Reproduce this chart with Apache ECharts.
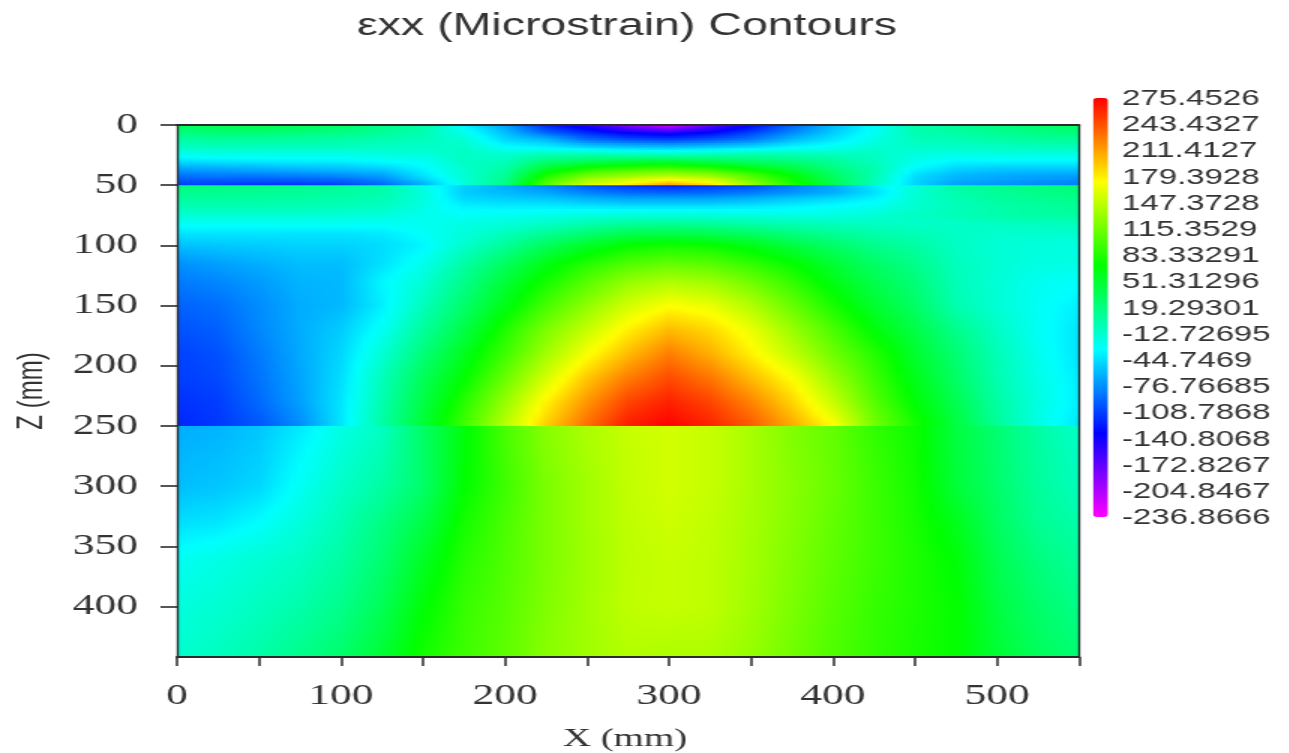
<!DOCTYPE html>
<html><head><meta charset="utf-8">
<style>
html,body{margin:0;padding:0;background:#fff;overflow:hidden;width:1289px;height:753px}
/* the reference is a picture stretched sideways: draw at 2/3 width, then widen */
#c{width:859px;height:753px;transform:scaleX(1.5);transform-origin:0 0;filter:blur(0.5px)}
</style>
<script src="https://cdn.jsdelivr.net/npm/echarts@6/dist/echarts.min.js"></script>
</head><body><div id="c"></div>
<script>
const titleText = 'εxx (Microstrain) Contours';
const xLabelValues = [0,100,200,300,400,500];
const zLabelValues = [0,50,100,150,200,250,300,350,400];
const legendLabels = ['275.4526','243.4327','211.4127','179.3928','147.3728','115.3529','83.33291','51.31296','19.29301','-12.72695','-44.7469','-76.76685','-108.7868','-140.8068','-172.8267','-204.8467','-236.8666'];
const valueMin = -236.8666, valueMax = 275.4526;
const palette = ['#ff00ff','#0000ff','#00ffff','#00ff00','#ffff00','#ff0000'];
const xNodes = [0,25,50,75,100,125,150,175,200,225,250,275,300,325,350,375,400,425,450,475,500,525,550];

// Readings [z, values at xNodes]. Repeated depth = jump between pavement layers.
const z000 = [0,   35,40,42,38,30,18,2,-35,-70,-120,-150,-190,-225,-175,-134,-95,-60,-30,0,10,20,28,32];
const z006 = [6,   20,25,25,22,18,10,0,-25,-58,-95,-120,-140,-150,-135,-110,-80,-52,-28,0,5,12,18,22];
const z012 = [12,  5,8,8,6,4,0,-5,-15,-48,-60,-90,-102,-108,-100,-85,-60,-42,-22,-5,-2,3,8,10];
const z018 = [18,  -8,-6,-6,-6,-6,-8,-10,-10,-32,-38,-50,-57,-60,-55,-48,-36,-28,-15,-10,-10,-8,-5,-3];
const z024 = [24,  -22,-20,-20,-20,-20,-18,-16,-8,-15,-6,-5,-10,-12,-8,-3,-5,-8,-8,-18,-20,-18,-18,-18];
const z030 = [30,  -45,-42,-40,-38,-38,-32,-28,-8,-5,25,35,45,50,40,30,22,10,-5,-25,-35,-35,-35,-35];
const z036 = [36,  -68,-65,-62,-58,-55,-50,-35,-12,3,50,78,90,95,85,65,45,20,0,-33,-48,-52,-52,-52];
const z042 = [42,  -88,-85,-85,-82,-78,-70,-42,-14,10,80,115,130,140,130,100,68,32,0,-45,-60,-65,-68,-70];
const z050a = [49.9, -110,-112,-115,-115,-110,-95,-65,-18,18,110,160,185,215,190,135,85,42,-5,-50,-70,-75,-80,-85];
const z050b = [50, 22,20,18,14,10,5,-22,-50,-65,-80,-100,-115,-122,-115,-105,-85,-68,-38,-18,4,14,20,25];
const z056 = [56,  14,14,12,10,6,2,-18,-52,-60,-68,-82,-92,-95,-92,-85,-75,-65,-45,-15,2,10,16,20];
const z062 = [62,  6,6,5,4,2,-2,-18,-46,-50,-52,-60,-65,-65,-65,-60,-52,-45,-35,-15,-2,6,12,15];
const z068 = [68,  -2,-2,-2,-3,-5,-8,-22,-36,-38,-38,-40,-42,-42,-42,-40,-35,-30,-25,-12,-5,2,6,10];
const z075 = [75,  -15,-15,-15,-15,-16,-18,-25,-28,-25,-22,-18,-16,-15,-16,-18,-20,-20,-15,-8,-3,2,5,6];
const z082 = [82,  -28,-28,-28,-28,-28,-28,-26,-22,-18,-10,0,8,10,8,3,-2,-5,-8,-10,-10,-8,-6,-5];
const z090 = [90,  -42,-42,-42,-42,-42,-40,-30,-18,-5,10,25,38,40,38,30,20,10,2,-3,-8,-12,-12,-12];
const z100 = [100, -57,-54,-52,-50,-50,-46,-35,-12,10,35,55,72,78,74,62,45,30,15,5,-8,-15,-18,-20];
const z115 = [115, -76,-70,-64,-58,-58,-44,-25,5,32,62,85,102,110,105,90,72,50,30,15,-5,-14,-20,-22];
const z130 = [130, -85,-80,-72,-62,-60,-35,-15,15,48,78,105,130,140,134,115,90,62,40,22,-3,-15,-26,-30];
const z150 = [150, -95,-90,-78,-65,-60,-38,-5,28,62,98,128,155,172,165,142,112,80,52,30,0,-15,-28,-38];
const z170 = [170, -102,-96,-80,-65,-52,-28,8,42,82,120,150,178,200,188,165,132,100,67,42,15,-8,-28,-42];
const z190 = [190, -108,-102,-85,-66,-48,-15,22,58,95,135,170,200,225,205,178,148,115,85,52,25,-3,-25,-43];
const z210 = [210, -110,-105,-88,-68,-45,-5,35,70,112,155,195,225,245,228,200,172,132,95,60,30,0,-22,-40];
const z230 = [230, -115,-110,-92,-70,-42,0,42,85,130,177,215,248,262,248,222,190,150,105,68,38,5,-20,-38];
const z250a = [249.9, -120,-112,-100,-78,-42,5,49,96,145,193,232,265,275,262,240,208,173,118,80,45,10,-22,-42];
const z250b = [250, -65,-62,-55,-40,-22,-8,30,66,100,125,140,150,155,150,138,122,110,90,75,45,25,5,-10];
const z300 = [300, -58,-55,-48,-28,-10,5,28,70,95,120,135,148,155,150,138,125,112,95,78,48,28,8,-5];
const z330 = [330, -45,-42,-32,-18,-2,18,42,78,100,120,135,147,153,148,137,124,110,95,80,60,32,12,2];
const z360 = [360, -28,-22,-15,-8,5,25,55,85,102,120,134,146,150,147,136,122,108,95,82,68,38,20,8];
const z400 = [400, -18,-14,-6,2,15,36,68,92,105,122,135,147,150,147,135,120,105,92,82,72,45,28,16];
const z442 = [442, -12,-6,3,15,28,50,78,95,108,125,135,142,140,140,130,116,102,90,80,72,50,35,25];

const zRows = [z000,z006,z012,z018,z024,z030,z036,z042,z050a,z050b,z056,z062,z068,z075,z082,z090,z100,z115,z130,z150,z170,z190,z210,z230,z250a,z250b,z300,z330,z360,z400,z442];

function colorOf(v){
  const t = Math.max(0, Math.min(1, (v - valueMin) / (valueMax - valueMin)));
  return echarts.color.lerp(t, palette);
}
// Each band between two read rows is shaded like the original contour fill.
const bandData = zRows.slice(0, -1).map((r, i) => [i, r[0], zRows[i + 1][0]]);

function renderBand(params, api){
  const i = api.value(0);
  const a = zRows[i], b = zRows[i + 1];
  const p0 = api.coord([xNodes[0], a[0]]);
  const p1 = api.coord([xNodes[xNodes.length - 1], b[0]]);
  const h = p1[1] - p0[1];
  if (h < 0.5) return null;
  const n = Math.max(1, Math.round(h / 2));
  const children = [];
  const SUB = 5, span = xNodes[xNodes.length - 1];
  for (let k = 0; k < n; k++){
    const f = (k + 0.5) / n;
    const stops = [];
    for (let c = 0; c < xNodes.length - 1; c++){
      const va = a[c + 1] + (b[c + 1] - a[c + 1]) * f;
      const vb = a[c + 2] + (b[c + 2] - a[c + 2]) * f;
      for (let s = 0; s < SUB; s++){
        const q = s / SUB;
        stops.push({offset: (xNodes[c] + (xNodes[c + 1] - xNodes[c]) * q) / span, color: colorOf(va + (vb - va) * q)});
      }
      if (c === xNodes.length - 2) stops.push({offset: 1, color: colorOf(vb)});
    }
    const y = p0[1] + h * k / n;
    children.push({
      type: 'rect',
      shape: {x: p0[0], y: y, width: p1[0] - p0[0], height: h / n + 1},
      style: {fill: new echarts.graphic.LinearGradient(0, 0, 1, 0, stops)},
      silent: true
    });
  }
  return {type: 'group', children};
}

const axisInk = '#2b2b2b', textInk = '#333333';
const chart = echarts.init(document.getElementById('c'), null, {renderer: 'canvas'});
chart.setOption({
  animation: false,
  backgroundColor: '#fff',
  title: {
    text: titleText, left: 413, top: 6, textAlign: 'center',
    textStyle: {fontFamily: 'Liberation Sans', fontSize: 31, fontWeight: 'normal', color: textInk}
  },
  grid: [
    {left: 118, top: 125, width: 601.33, height: 532, containLabel: false, outerBoundsMode: 'none'},
    {left: 744, top: 99, width: 8, height: 419, containLabel: false, outerBoundsMode: 'none'}
  ],
  xAxis: [
    {type: 'value', gridIndex: 0, position: 'bottom', min: 0, max: 550, interval: 50, z: 5,
     name: 'X (mm)', nameLocation: 'middle', nameGap: 69,
     nameTextStyle: {fontFamily: 'Liberation Serif', fontSize: 26, color: textInk, padding: [0, 4, 0, 0]},
     axisLine: {onZero: false, lineStyle: {color: axisInk, width: 2}},
     axisTick: {show: true, length: 9, lineStyle: {color: axisInk, width: 1.5}},
     axisLabel: {customValues: xLabelValues, margin: 25, fontFamily: 'Liberation Serif', fontSize: 29, color: textInk},
     splitLine: {show: false}},
    {type: 'value', gridIndex: 0, position: 'top', min: 0, max: 550, z: 5,
     axisLine: {onZero: false, lineStyle: {color: axisInk, width: 2}},
     axisTick: {show: false}, axisLabel: {show: false}, splitLine: {show: false}},
    {type: 'value', gridIndex: 1, min: 0, max: 1, show: false}
  ],
  yAxis: [
    {type: 'value', gridIndex: 0, position: 'left', min: 0, max: 442, inverse: true, z: 5,
     name: 'Z (mm)', nameLocation: 'middle', nameRotate: 90, nameGap: 85,
     nameTextStyle: {fontFamily: 'Liberation Sans', fontSize: 24, color: textInk},
     axisLine: {onZero: false, lineStyle: {color: axisInk, width: 1.4}},
     axisTick: {show: true, length: 11, customValues: zLabelValues, lineStyle: {color: axisInk, width: 1.6}},
     axisLabel: {customValues: zLabelValues, margin: 26, fontFamily: 'Liberation Serif', fontSize: 29, color: textInk},
     splitLine: {show: false}},
    {type: 'value', gridIndex: 0, position: 'right', min: 0, max: 442, inverse: true, z: 5,
     axisLine: {onZero: false, lineStyle: {color: axisInk, width: 1.4}},
     axisTick: {show: false}, axisLabel: {show: false}, splitLine: {show: false}},
    {type: 'category', gridIndex: 1, position: 'left', inverse: true, boundaryGap: false, data: legendLabels,
     axisLine: {show: false}, axisTick: {show: false}, splitLine: {show: false},
     axisLabel: {inside: true, interval: 0, margin: 4, align: 'left', fontFamily: 'Liberation Sans', fontSize: 22, color: textInk,
       showMinLabel: true, showMaxLabel: true, hideOverlap: false}}
  ],
  visualMap: {
    type: 'continuous', show: true, seriesIndex: 1, min: valueMin, max: valueMax,
    left: 713.67, top: 83, itemWidth: 10, itemHeight: 419, calculable: false, realtime: false,
    text: null, showLabel: false, inRange: {color: palette}, textStyle: {fontSize: 0, color: 'rgba(0,0,0,0)'},
    formatter: () => ''
  },
  series: [
    {type: 'custom', xAxisIndex: 0, yAxisIndex: 0, data: bandData, renderItem: renderBand, silent: true, clip: true, encode: {x: 1, y: 2}, z: 2},
    {type: 'custom', xAxisIndex: 2, yAxisIndex: 2, data: [], renderItem: () => null, silent: true}
  ]
});
</script></body></html>
